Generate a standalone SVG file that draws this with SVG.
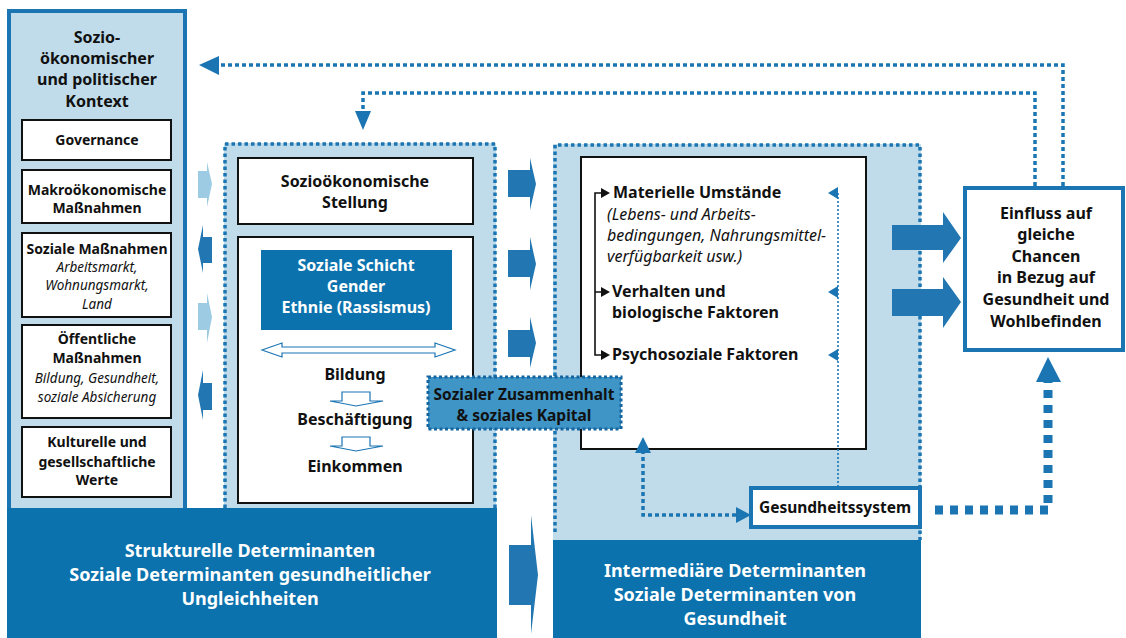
<svg xmlns="http://www.w3.org/2000/svg" width="1126" height="638" viewBox="0 0 1126 638">
<defs>
<style>
text{font-family:"Noto Sans","Open Sans","Liberation Sans",sans-serif;fill:#111;text-anchor:middle}
.b{font-weight:bold}
.i{font-style:italic}
.s14{font-size:14px}
.s13{font-size:13.5px}
.s15{font-size:15px}
.s155{font-size:15.5px}
.s16{font-size:16px}
.s18{font-size:18px}
.w{fill:#fff}
.l{text-anchor:start}
.box{fill:#fff;stroke:#111;stroke-width:2}
.dotb{fill:none;stroke:#1b75b3;stroke-width:3.5;stroke-dasharray:3.5 3}
.dotl{fill:none;stroke:#1b75b3;stroke-width:3.5;stroke-dasharray:4 3}
.arrL{fill:#9dcbe3}
.arrD{fill:#2277b3}
.blue{fill:#1b75b3}
</style>
</defs>

<g id="panel-context">
<rect x="9" y="11" width="176" height="499" fill="#c0dcea" stroke="#1b75b3" stroke-width="4"/>
<text class="b s16" x="97" y="43">Sozio-</text>
<text class="b s16" x="97" y="64">ökonomischer</text>
<text class="b s16" x="97" y="85">und politischer</text>
<text class="b s16" x="97" y="107">Kontext</text>
</g>
<g id="node-governance">
<rect class="box" x="22" y="120" width="149" height="40"/>
<text class="b s14" x="97" y="145">Governance</text>
</g>
<g id="node-makro">
<rect class="box" x="22" y="170" width="149" height="53"/>
<text class="b s14" x="97" y="195">Makroökonomische</text>
<text class="b s14" x="97" y="213">Maßnahmen</text>
</g>
<g id="node-sozial">
<rect class="box" x="22" y="233" width="149" height="84"/>
<text class="b s14" x="97" y="254">Soziale Maßnahmen</text>
<text class="i s13" x="97" y="272">Arbeitsmarkt,</text>
<text class="i s13" x="97" y="290">Wohnungsmarkt,</text>
<text class="i s13" x="97" y="309">Land</text>
</g>
<g id="node-oeffentlich">
<rect class="box" x="22" y="325" width="149" height="93"/>
<text class="b s14" x="97" y="344">Öffentliche</text>
<text class="b s14" x="97" y="363">Maßnahmen</text>
<text class="i s13" x="97" y="383">Bildung, Gesundheit,</text>
<text class="i s13" x="97" y="402">soziale Absicherung</text>
</g>
<g id="node-kultur">
<rect class="box" x="22" y="427" width="149" height="70"/>
<text class="b s14" x="97" y="447">Kulturelle und</text>
<text class="b s14" x="97" y="467">gesellschaftliche</text>
<text class="b s14" x="97" y="485">Werte</text>
</g>

<g id="panel-structural">
<rect x="224" y="143" width="272" height="365" fill="#c0dcea"/>
<path class="dotb" d="M225,508 V144 H495 V508"/>
</g>
<g id="node-stellung">
<rect class="box" x="238" y="158" width="235" height="66"/>
<text class="b s16" x="355" y="187">Sozioökonomische</text>
<text class="b s16" x="355" y="208">Stellung</text>
</g>
<g id="node-schicht-box">
<rect class="box" x="238" y="237" width="235" height="266"/>
</g>
<g id="node-schicht">
<rect x="261" y="250" width="191" height="80" fill="#0b72ad"/>
<text class="b s16 w" x="356" y="271">Soziale Schicht</text>
<text class="b s16 w" x="356" y="292">Gender</text>
<text class="b s16 w" x="356" y="313">Ethnie (Rassismus)</text>
</g>
<g id="node-bildung">
<text class="b s16" x="355" y="380">Bildung</text>
<text class="b s16" x="355" y="425">Beschäftigung</text>
<text class="b s16" x="355" y="472">Einkommen</text>
</g>

<g id="panel-intermediate">
<rect x="553" y="144" width="368" height="396" fill="#c0dcea"/>
<path class="dotb" d="M555,532 V145 H920 V540"/>
</g>
<g id="node-intermed-box">
<rect class="box" x="581" y="157" width="285" height="292"/>
<text class="b s16 l" x="613" y="198">Materielle Umstände</text>
<text class="i s16 l" x="607" y="220">(Lebens- und Arbeits-</text>
<text class="i s16 l" x="607" y="241">bedingungen, Nahrungsmittel-</text>
<text class="i s16 l" x="607" y="262">verfügbarkeit usw.)</text>
<text class="b s16 l" x="612" y="297">Verhalten und</text>
<text class="b s16 l" x="612" y="318">biologische Faktoren</text>
<text class="b s16 l" x="612" y="360">Psychosoziale Faktoren</text>
</g>
<g id="node-zusammenhalt">
<rect x="428" y="377" width="193" height="52" fill="#3f95c6" stroke="#1565a0" stroke-width="3" stroke-dasharray="3 2.5"/>
<text class="b s155" x="524" y="400">Sozialer Zusammenhalt</text>
<text class="b s155" x="524" y="421">&amp; soziales Kapital</text>
</g>
<g id="node-gesundheitssystem">
<rect x="751" y="488" width="169" height="39" fill="#fff" stroke="#1b75b3" stroke-width="4"/>
<text class="b s155" x="835" y="513">Gesundheitssystem</text>
</g>
<g id="node-einfluss">
<rect x="965" y="188" width="158" height="162" fill="#fff" stroke="#1b75b3" stroke-width="4"/>
<text class="b s16" x="1046" y="219">Einfluss auf</text>
<text class="b s16" x="1046" y="240">gleiche</text>
<text class="b s16" x="1046" y="262">Chancen</text>
<text class="b s16" x="1046" y="283">in Bezug auf</text>
<text class="b s16" x="1046" y="305">Gesundheit und</text>
<text class="b s16" x="1046" y="327">Wohlbefinden</text>
</g>
<g id="node-strukturelle">
<rect x="7" y="508" width="490" height="130" fill="#0b72ad"/>
<text class="b s18 w" x="250" y="557">Strukturelle Determinanten</text>
<text class="b s18 w" x="250" y="581">Soziale Determinanten gesundheitlicher</text>
<text class="b s18 w" x="250" y="605">Ungleichheiten</text>
</g>
<g id="node-intermediaere">
<rect x="553" y="540" width="368" height="98" fill="#0b72ad"/>
<text class="b s18 w" x="735" y="577">Intermediäre Determinanten</text>
<text class="b s18 w" x="735" y="601">Soziale Determinanten von</text>
<text class="b s18 w" x="735" y="625">Gesundheit</text>
</g>

<g id="connectors">
<polygon class="arrL" points="198,171 207,171 207,162 212,184 207,207 207,198 198,198"/>
<polygon class="arrD" points="212,237 203,237 203,225 198,249 203,273 203,263 212,263"/>
<polygon class="arrL" points="198,303 207,303 207,293 212,317 207,343 207,330 198,330"/>
<polygon class="arrD" points="212,383 203,383 203,370 198,395 203,420 203,410 212,410"/>
<polygon class="arrD" points="508,170 530,170 530,158 536,184 530,210 530,197 508,197"/>
<polygon class="arrD" points="508,250 530,250 530,237 536,264 530,290 530,277 508,277"/>
<polygon class="arrD" points="508,330 530,330 530,317 536,343 530,368 530,357 508,357"/>
<polygon class="arrD" points="509,545 531,545 531,515 538,575 531,634 531,605 509,605"/>
<polygon class="arrD" points="892,225 943,225 943,212 961,238 943,263 943,250 892,250"/>
<polygon class="arrD" points="892,289 943,289 943,277 961,302 943,328 943,316 892,316"/>
<polygon points="262,350 282,343 282,347 435,347 435,343 455,350 435,357 435,353 282,353 282,357" fill="#fff" stroke="#1b75b3" stroke-width="1.2"/>
<polygon points="342,392 370,392 370,401 383,401 356,406 330,401 342,401" fill="#fff" stroke="#1b75b3" stroke-width="1.2"/>
<polygon points="342,437 370,437 370,446 383,446 356,451 330,446 342,446" fill="#fff" stroke="#1b75b3" stroke-width="1.2"/>
<path d="M603,193 H595 V355 H603 M595,292 H603" fill="none" stroke="#111" stroke-width="1.6"/>
<polygon points="601,188 610,193 601,198" fill="#111"/>
<polygon points="601,287 610,292 601,297" fill="#111"/>
<polygon points="601,350 610,355 601,360" fill="#111"/>
<path d="M838,487 V193" fill="none" stroke="#1b75b3" stroke-width="1.6" stroke-dasharray="2 2"/>
<polygon class="blue" points="828,193 838,187 838,199"/>
<polygon class="blue" points="828,292 838,286 838,298"/>
<polygon class="blue" points="828,355 838,349 838,361"/>
<path class="dotl" d="M736,515 H643 V453"/>
<polygon class="blue" points="736,507 751,515 736,523"/>
<polygon class="blue" points="635,453 643,437 651,453"/>
<path d="M935,510 H1048 V382" fill="none" stroke="#1b75b3" stroke-width="9" stroke-dasharray="8 7"/>
<polygon class="blue" points="1036,382 1048,357 1061,382"/>
<path class="dotl" d="M1063,186 V65 H219"/>
<polygon class="blue" points="219,56 199,65 219,75"/>
<path class="dotl" d="M1035,186 V93 H363 V112"/>
<polygon class="blue" points="355,111 363,130 371,111"/>
</g>
</svg>
